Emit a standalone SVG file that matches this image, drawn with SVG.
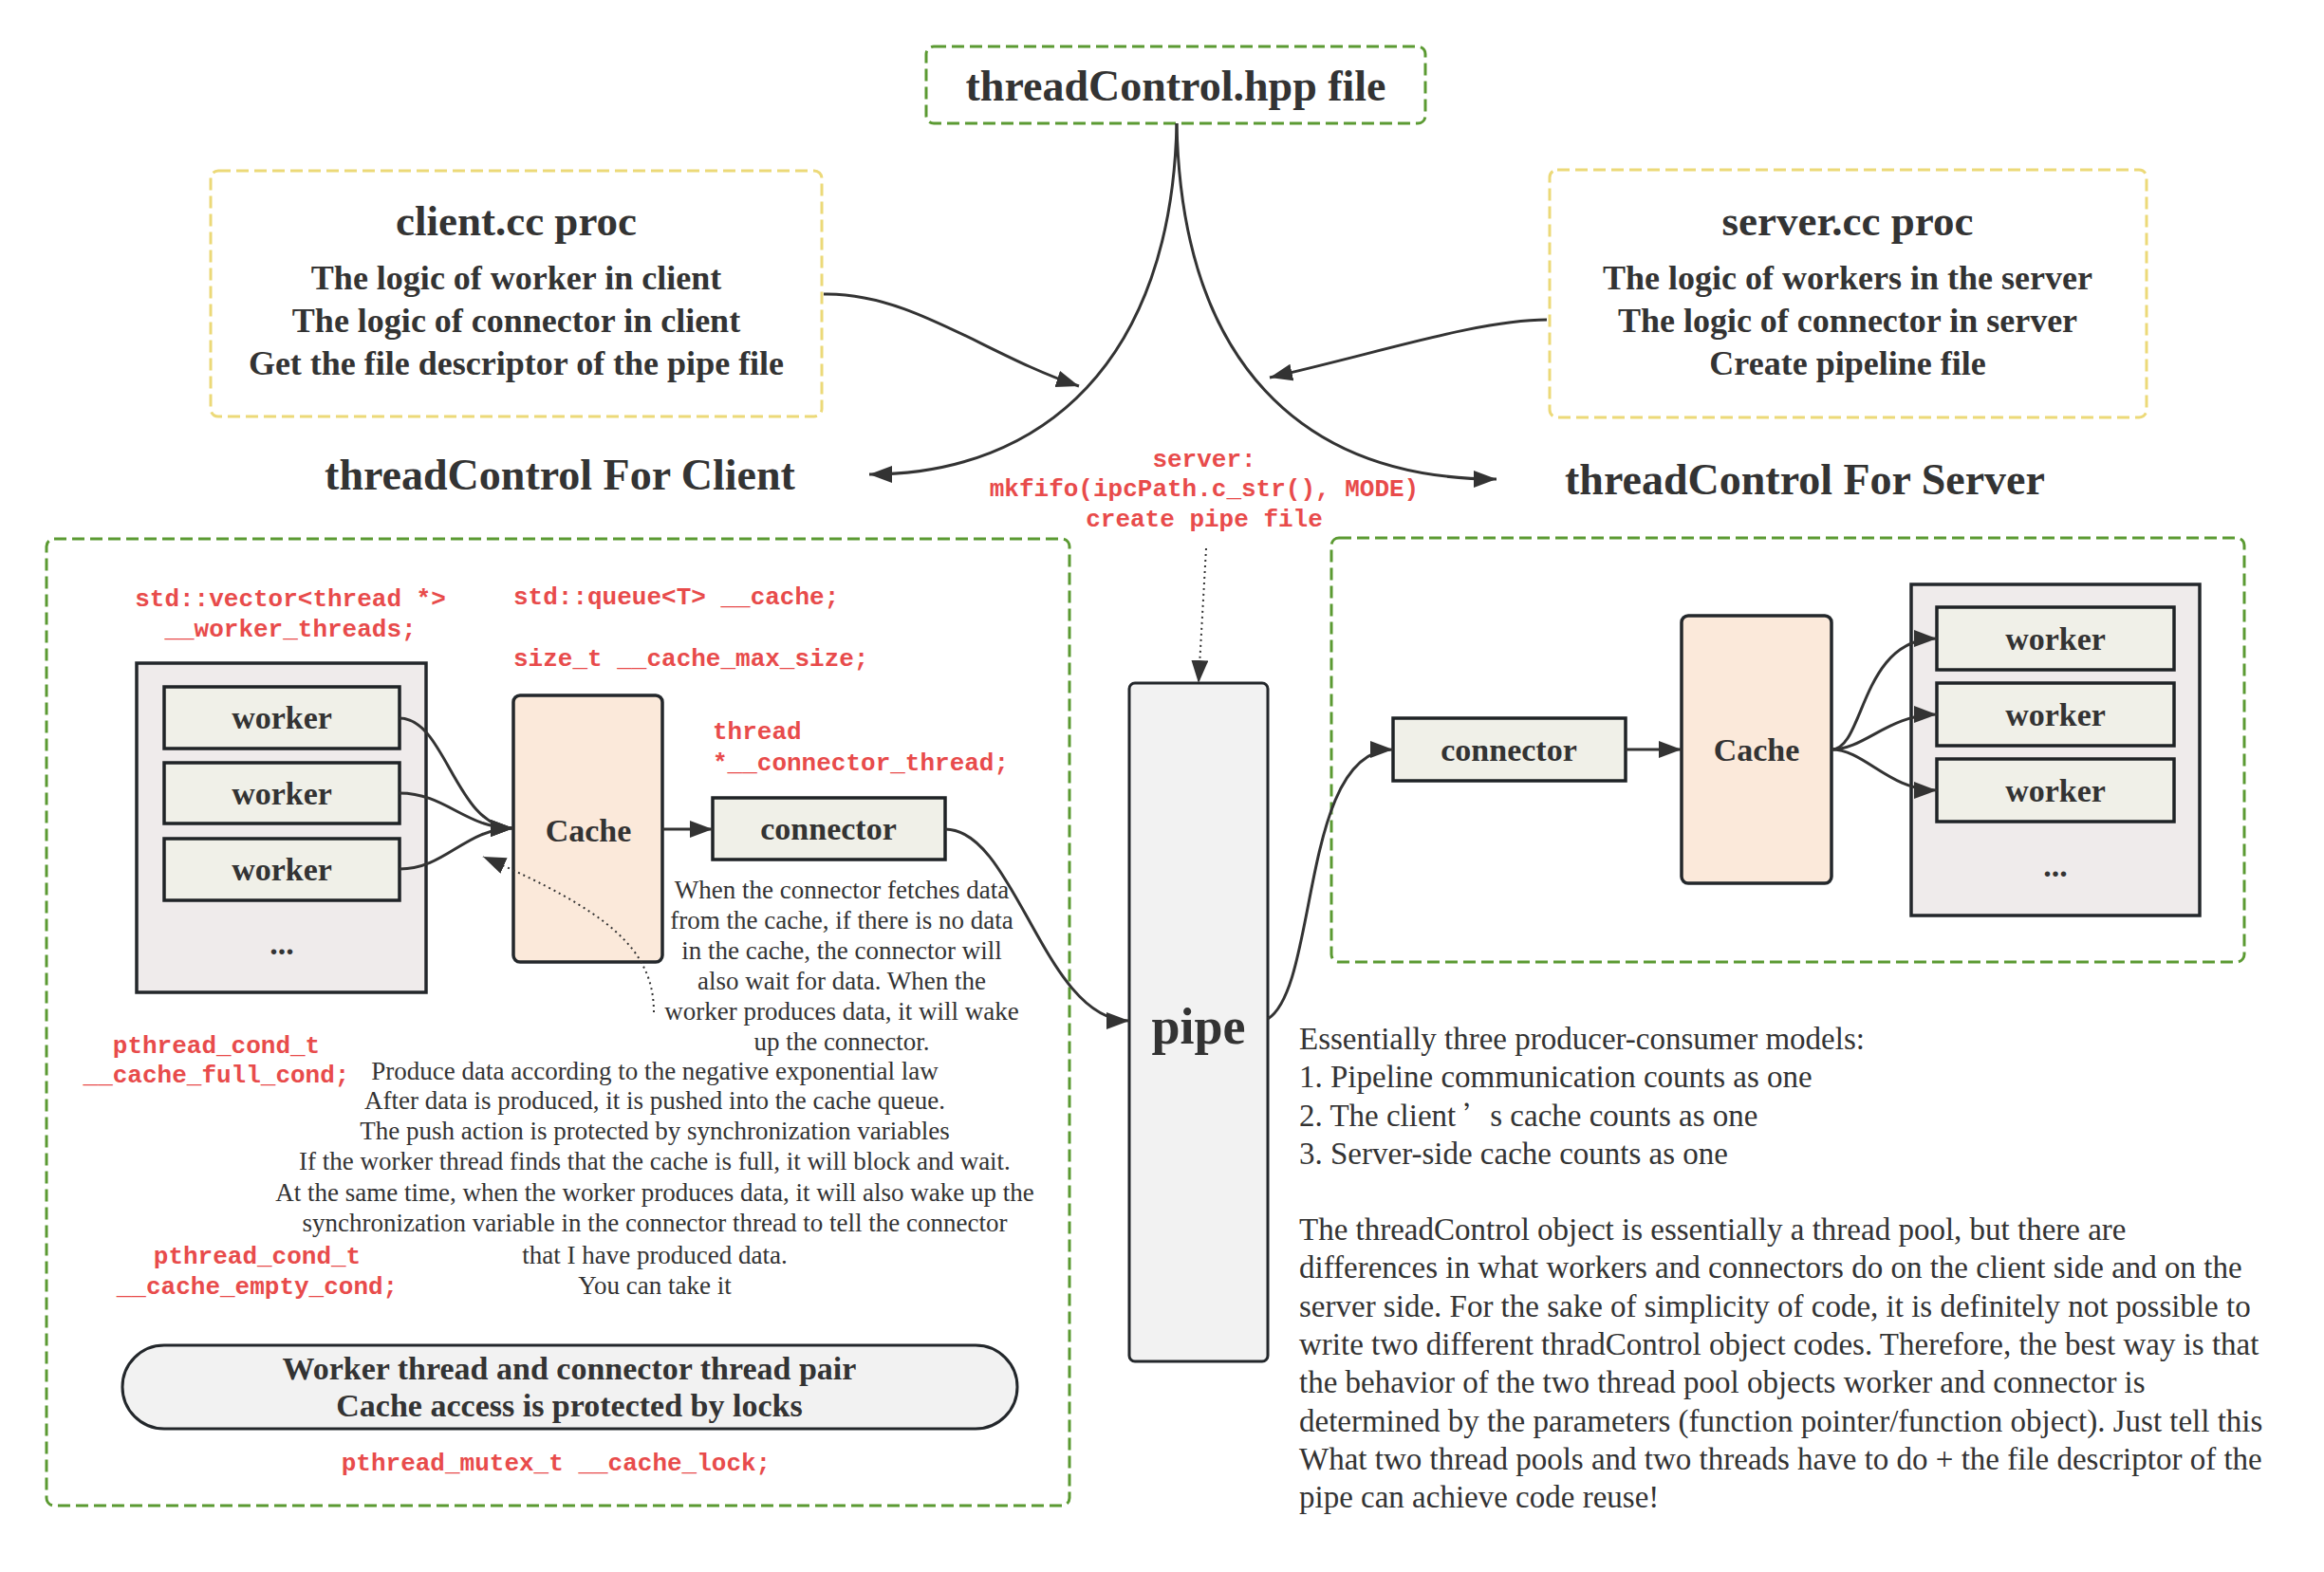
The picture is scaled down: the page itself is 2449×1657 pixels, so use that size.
<svg xmlns="http://www.w3.org/2000/svg" width="2449" height="1657" viewBox="0 0 2449 1657">
<defs>
<marker id="ah" markerUnits="userSpaceOnUse" markerWidth="26" markerHeight="20" refX="24" refY="9" orient="auto">
<path d="M0,0 L24,9 L0,18 z" fill="#333"/>
</marker>
<style>
.bg{fill:#fff}
.gdash{fill:none;stroke:#5b9a32;stroke-width:3;stroke-dasharray:13 6}
.ydash{fill:none;stroke:#ecd978;stroke-width:3;stroke-dasharray:13 6}
.pool{fill:#efebeb;stroke:#23272b;stroke-width:3.5}
.box{fill:#f0f0e8;stroke:#1f2326;stroke-width:3.5}
.cache{fill:#fbe9da;stroke:#23272b;stroke-width:3.5}
.pipe{fill:#f2f2f2;stroke:#23272b;stroke-width:3}
.pill{fill:#f2f2f2;stroke:#23272b;stroke-width:3}
.hd{font-family:"Liberation Serif","Times New Roman",serif;font-weight:bold;fill:#333;text-anchor:middle}
.nd{font-family:"Liberation Serif","Times New Roman",serif;font-weight:bold;fill:#333;text-anchor:middle;font-size:34px}
.code{font-family:"Liberation Mono","Courier New",monospace;font-weight:bold;fill:#e84b4b;font-size:26px}
.body{font-family:"Liberation Serif","Times New Roman",serif;fill:#333;font-size:27px;text-anchor:middle}
.rt{font-family:"Liberation Serif","Times New Roman",serif;fill:#333;font-size:33px}
.ln{fill:none;stroke:#333;stroke-width:3}
.dot{fill:none;stroke:#333;stroke-width:2;stroke-dasharray:2 4}
</style>
</defs>
<rect class="bg" x="0" y="0" width="2449" height="1657"/>

<g id="hpp">
<rect class="gdash" x="976" y="49" width="526" height="81" rx="8"/>
<text class="hd" x="1239" y="106" font-size="46">threadControl.hpp file</text>
</g>

<g id="client-proc">
<rect class="ydash" x="222" y="180" width="644" height="259" rx="8"/>
<text class="hd" x="544" y="248" font-size="45">client.cc proc</text>
<text class="hd" x="544" y="305" font-size="36">The logic of worker in client</text>
<text class="hd" x="544" y="350" font-size="36">The logic of connector in client</text>
<text class="hd" x="544" y="395" font-size="36">Get the file descriptor of the pipe file</text>
</g>

<g id="server-proc">
<rect class="ydash" x="1633" y="179" width="629" height="261" rx="8"/>
<text class="hd" x="1947" y="248" font-size="45">server.cc proc</text>
<text class="hd" x="1947" y="305" font-size="36">The logic of workers in the server</text>
<text class="hd" x="1947" y="350" font-size="36">The logic of connector in server</text>
<text class="hd" x="1947" y="395" font-size="36">Create pipeline file</text>
</g>

<g id="tc-client-label">
<text class="hd" x="590" y="516" font-size="46">threadControl For Client</text>
</g>
<g id="tc-server-label">
<text class="hd" x="1902" y="521" font-size="46">threadControl For Server</text>
</g>

<g id="mkfifo-note">
<text class="code" x="1269" y="492" text-anchor="middle">server:</text>
<text class="code" x="1269" y="523" text-anchor="middle">mkfifo(ipcPath.c_str(), MODE)</text>
<text class="code" x="1269" y="555" text-anchor="middle">create pipe file</text>
</g>

<g id="client-group">
<rect class="gdash" x="49" y="568" width="1078" height="1019" rx="8"/>
<text class="code" x="306" y="639" text-anchor="middle">std::vector&lt;thread *&gt;</text>
<text class="code" x="306" y="671" text-anchor="middle">__worker_threads;</text>
<text class="code" x="541" y="637">std::queue&lt;T&gt; __cache;</text>
<text class="code" x="541" y="702">size_t __cache_max_size;</text>
<text class="code" x="751" y="779">thread</text>
<text class="code" x="751" y="812">*__connector_thread;</text>
<text class="code" x="228" y="1110" text-anchor="middle">pthread_cond_t</text>
<text class="code" x="228" y="1141" text-anchor="middle">__cache_full_cond;</text>
<text class="code" x="271" y="1332" text-anchor="middle">pthread_cond_t</text>
<text class="code" x="271" y="1364" text-anchor="middle">__cache_empty_cond;</text>
<text class="code" x="586" y="1550" text-anchor="middle">pthread_mutex_t __cache_lock;</text>
</g>

<g id="client-pool">
<rect class="pool" x="144" y="699" width="305" height="347"/>
<text class="nd" x="297" y="1006" font-size="30">...</text>
</g>
<g id="client-worker-1">
<rect class="box" x="173" y="724" width="248" height="65"/>
<text class="nd" x="297" y="768">worker</text>
</g>
<g id="client-worker-2">
<rect class="box" x="173" y="804" width="248" height="64"/>
<text class="nd" x="297" y="848">worker</text>
</g>
<g id="client-worker-3">
<rect class="box" x="173" y="884" width="248" height="65"/>
<text class="nd" x="297" y="928">worker</text>
</g>
<g id="client-cache">
<rect class="cache" x="541" y="733" width="157" height="281" rx="7"/>
<text class="nd" x="620" y="887">Cache</text>
</g>
<g id="client-connector">
<rect class="box" x="751" y="841" width="245" height="65"/>
<text class="nd" x="873" y="885">connector</text>
</g>

<g id="connector-note">
<text class="body" x="887" y="947">When the connector fetches data</text>
<text class="body" x="887" y="979">from the cache, if there is no data</text>
<text class="body" x="887" y="1011">in the cache, the connector will</text>
<text class="body" x="887" y="1043">also wait for data. When the</text>
<text class="body" x="887" y="1075">worker produces data, it will wake</text>
<text class="body" x="887" y="1107">up the connector.</text>
</g>

<g id="worker-note">
<text class="body" x="690" y="1138">Produce data according to the negative exponential law</text>
<text class="body" x="690" y="1169">After data is produced, it is pushed into the cache queue.</text>
<text class="body" x="690" y="1201">The push action is protected by synchronization variables</text>
<text class="body" x="690" y="1233">If the worker thread finds that the cache is full, it will block and wait.</text>
<text class="body" x="690" y="1266">At the same time, when the worker produces data, it will also wake up the</text>
<text class="body" x="690" y="1298">synchronization variable in the connector thread to tell the connector</text>
<text class="body" x="690" y="1332">that I have produced data.</text>
<text class="body" x="690" y="1364">You can take it</text>
</g>

<g id="lock-pill">
<rect class="pill" x="129" y="1418" width="943" height="88" rx="44"/>
<text class="nd" x="600" y="1454" font-size="32">Worker thread and connector thread pair</text>
<text class="nd" x="600" y="1493" font-size="32">Cache access is protected by locks</text>
</g>

<g id="pipe">
<rect class="pipe" x="1190" y="720" width="146" height="715" rx="6"/>
<text class="hd" x="1263" y="1100" font-size="54">pipe</text>
</g>

<g id="server-group">
<rect class="gdash" x="1403" y="567" width="962" height="447" rx="8"/>
</g>
<g id="server-connector">
<rect class="box" x="1468" y="757" width="245" height="66"/>
<text class="nd" x="1590" y="802">connector</text>
</g>
<g id="server-cache">
<rect class="cache" x="1772" y="649" width="158" height="282" rx="7"/>
<text class="nd" x="1851" y="802">Cache</text>
</g>
<g id="server-pool">
<rect class="pool" x="2014" y="616" width="304" height="349"/>
<text class="nd" x="2166" y="924" font-size="30">...</text>
</g>
<g id="server-worker-1">
<rect class="box" x="2041" y="640" width="250" height="66"/>
<text class="nd" x="2166" y="685">worker</text>
</g>
<g id="server-worker-2">
<rect class="box" x="2041" y="720" width="250" height="66"/>
<text class="nd" x="2166" y="765">worker</text>
</g>
<g id="server-worker-3">
<rect class="box" x="2041" y="800" width="250" height="66"/>
<text class="nd" x="2166" y="845">worker</text>
</g>

<g id="summary">
<text class="rt" x="1369" y="1106">Essentially three producer-consumer models:</text>
<text class="rt" x="1369" y="1146">1. Pipeline communication counts as one</text>
<text class="rt" x="1369" y="1187">2. The client<tspan dx="8" font-family="'Noto Sans CJK SC',sans-serif" font-size="28">’</tspan>s cache counts as one</text>
<text class="rt" x="1369" y="1227">3. Server-side cache counts as one</text>
<text class="rt" x="1369" y="1307">The threadControl object is essentially a thread pool, but there are</text>
<text class="rt" x="1369" y="1347">differences in what workers and connectors do on the client side and on the</text>
<text class="rt" x="1369" y="1388">server side. For the sake of simplicity of code, it is definitely not possible to</text>
<text class="rt" x="1369" y="1428">write two different thradControl object codes. Therefore, the best way is that</text>
<text class="rt" x="1369" y="1468">the behavior of the two thread pool objects worker and connector is</text>
<text class="rt" x="1369" y="1509">determined by the parameters (function pointer/function object). Just tell this</text>
<text class="rt" x="1369" y="1549">What two thread pools and two threads have to do + the file descriptor of the</text>
<text class="rt" x="1369" y="1589">pipe can achieve code reuse!</text>
</g>

<g id="connectors">
<path class="ln" d="M1240,130 C1235,380 1100,500 916,500" marker-end="url(#ah)"/>
<path class="ln" d="M1240,130 C1245,380 1370,505 1577,505" marker-end="url(#ah)"/>
<path class="ln" d="M868,310 C960,308 1040,375 1137,407" marker-end="url(#ah)"/>
<path class="ln" d="M1630,337 C1560,337 1460,370 1338,398" marker-end="url(#ah)"/>
<path class="ln" d="M421,757 C470,757 480,873 541,873" marker-end="url(#ah)"/>
<path class="ln" d="M421,836 C470,836 490,873 541,873" marker-end="url(#ah)"/>
<path class="ln" d="M421,916 C470,916 490,873 541,873" marker-end="url(#ah)"/>
<path class="ln" d="M698,874 L751,874" marker-end="url(#ah)"/>
<path class="ln" d="M996,874 C1070,874 1100,1076 1190,1076" marker-end="url(#ah)"/>
<path class="ln" d="M1336,1074 C1390,1040 1370,790 1468,790" marker-end="url(#ah)"/>
<path class="ln" d="M1713,790 L1772,790" marker-end="url(#ah)"/>
<path class="ln" d="M1930,790 C1965,790 1960,673 2041,673" marker-end="url(#ah)"/>
<path class="ln" d="M1930,790 C1965,790 1990,753 2041,753" marker-end="url(#ah)"/>
<path class="ln" d="M1930,790 C1965,790 1990,833 2041,833" marker-end="url(#ah)"/>
<path class="dot" d="M689,1067 C689,1000 640,960 509,903" marker-end="url(#ah)"/>
<path class="dot" d="M1271,578 L1263,720" marker-end="url(#ah)"/>
</g>
</svg>
